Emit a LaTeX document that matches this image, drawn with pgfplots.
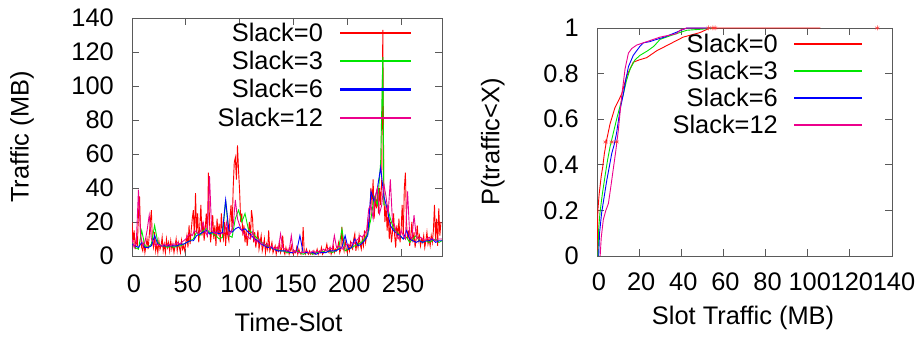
\documentclass[border=0pt]{standalone}
\usepackage{fontspec}
\setmainfont{Liberation Sans}
\usepackage{pgfplots}
\usepackage{pgfplotstable}
\pgfplotsset{compat=1.18}

\pgfplotstableread[row sep=\\]{y\\
20\\8\\15\\4\\10\\6\\25\\35\\12\\5\\
3\\8\\2\\6\\10\\4\\12\\20\\27\\8\\
5\\14\\3\\7\\2\\9\\4\\6\\11\\3\\
7\\2\\10\\5\\8\\3\\9\\4\\7\\2\\
6\\10\\3\\8\\5\\2\\9\\4\\6\\3\\
8\\12\\5\\18\\7\\15\\22\\27\\10\\37\\
14\\25\\8\\18\\30\\12\\20\\9\\16\\25\\
11\\49\\20\\8\\15\\24\\10\\18\\6\\22\\
12\\19\\8\\25\\14\\10\\20\\6\\17\\12\\
9\\22\\30\\15\\40\\55\\58\\45\\65\\50\\
38\\20\\25\\12\\18\\8\\15\\6\\12\\20\\
10\\27\\22\\8\\14\\5\\10\\15\\4\\8\\
12\\3\\6\\10\\2\\7\\4\\15\\3\\5\\
8\\2\\4\\6\\1\\5\\3\\9\\2\\4\\
12\\3\\1\\5\\2\\4\\1\\3\\6\\2\\
1\\3\\2\\5\\1\\4\\2\\1\\3\\17\\
2\\1\\4\\2\\1\\3\\1\\2\\1\\3\\
1\\2\\4\\1\\3\\2\\5\\1\\2\\3\\
4\\7\\3\\2\\5\\1\\3\\6\\2\\4\\
3\\5\\8\\2\\4\\17\\6\\3\\9\\4\\
2\\6\\3\\8\\5\\4\\10\\13\\3\\8\\
5\\12\\7\\4\\10\\6\\15\\8\\12\\20\\
15\\25\\40\\30\\45\\22\\35\\28\\38\\25\\
40\\30\\45\\133\\35\\20\\30\\15\\25\\10\\
20\\8\\14\\25\\12\\5\\18\\10\\22\\8\\
15\\30\\12\\40\\49\\20\\10\\15\\6\\12\\
20\\8\\14\\5\\10\\18\\9\\12\\6\\10\\
8\\12\\5\\9\\14\\7\\10\\6\\12\\8\\
15\\30\\10\\22\\6\\28\\12\\20\\
}\slackzero

\definecolor{axgray}{RGB}{90,90,90}
\definecolor{gpgreen}{RGB}{0,230,0}

\pgfplotsset{
  gp/.style={
    scale only axis,
    axis line style={axgray, line width=0.8bp},
    tick style={axgray, line width=0.8bp},
    tick align=inside,
    major tick length=7bp,
    font=\fontsize{25.5}{30}\selectfont,
    xticklabel style={anchor=center, inner sep=0pt, /pgf/number format/assume math mode=true},
    yticklabel style={anchor=east, inner sep=0pt, /pgf/number format/assume math mode=true},
    legend plot pos=right,
    legend cell align=right,
    legend style={draw=none, fill=none, font=\fontsize{25.5}{30}\selectfont,
      inner sep=0pt, nodes={inner sep=0pt}},
  },
}

\begin{document}
\begin{tikzpicture}[x=1bp,y=1bp]
\useasboundingbox (0,0) rectangle (918,337);

% ---------------- left panel ----------------
\begin{axis}[gp,
  at={(132bp,81bp)}, anchor=south west,
  width=310bp, height=238bp,
  xmin=0, xmax=288, ymin=0, ymax=140,
  xtick={0,50,...,250}, ytick={0,20,...,140},
  xticklabel style={yshift=-28bp, xshift=2bp},
  yticklabel style={xshift=-18bp},
  xlabel={Time-Slot}, ylabel={Traffic (MB)},
  every axis x label/.style={at={(axis description cs:0.505,-0.28)}, anchor=center},
  every axis y label/.style={at={(axis description cs:-0.355,0.5)}, anchor=center, rotate=90},
  legend style={at={(0.9,0.98)}, anchor=north east, column sep=17bp, row sep=8.4bp},
  legend image code/.code={\fill[#1] (0bp,-0.65bp) rectangle (70bp,0.65bp);},
]
\addplot[red, line width=0.9bp] table[x expr=\coordindex, y=y] {\slackzero};
\addlegendentry{Slack=0}
\addplot[gpgreen, line width=0.9bp] coordinates {
(0,8)(3,5)(6,4)(9,15)(12,6)(15,5)(18,7)(21,18)(24,8)(27,6)
(30,6)(33,5)(36,6)(39,5)(42,6)(45,6)(48,7)(51,8)(54,9)(57,10)
(60,14)(63,12)(66,15)(69,16)(72,14)(75,13)(78,12)(81,10)(84,11)(87,33)
(90,12)(93,11)(96,22)(99,27)(102,20)(105,25)(108,16)(111,14)(114,12)(117,10)
(120,8)(123,7)(126,6)(129,5)(132,4)(135,4)(138,3)(141,3)(144,2)(147,2)
(150,2)(153,3)(156,2)(159,1)(162,2)(165,2)(168,1)(171,2)(174,2)(177,3)
(180,2)(183,3)(186,2)(189,3)(192,4)(195,16)(198,3)(201,4)(204,5)(207,6)
(210,7)(213,8)(216,10)(219,13)(222,22)(225,35)(228,30)(231,55)(233,117)(234,30)(237,30)
(240,22)(243,16)(246,14)(249,12)(252,10)(255,11)(258,8)(261,10)(264,12)(267,9)
(270,8)(273,9)(276,8)(279,9)(282,10)(285,8)(288,9)};
\addlegendentry{Slack=3}
\addplot[blue, line width=0.9bp] coordinates {
(0,7)(3,6)(6,5)(9,8)(12,5)(15,5)(18,6)(21,12)(24,7)(27,6)
(30,6)(33,6)(36,6)(39,6)(42,6)(45,7)(48,7)(51,8)(54,9)(57,9)
(60,12)(63,13)(66,14)(69,15)(72,13)(75,14)(78,14)(81,13)(84,14)(87,33)
(90,15)(93,14)(96,16)(99,17)(102,15)(105,16)(108,14)(111,12)(114,10)(117,9)
(120,7)(123,6)(126,5)(129,5)(132,4)(135,3)(138,3)(141,3)(144,3)(147,2)
(150,2)(153,3)(156,12)(159,2)(162,2)(165,2)(168,2)(171,1)(174,2)(177,2)
(180,2)(183,3)(186,3)(189,3)(192,4)(195,5)(198,12)(201,4)(204,5)(207,10)
(210,6)(213,7)(216,9)(219,12)(222,38)(225,32)(228,40)(231,52)(234,35)(237,28)
(240,18)(243,15)(246,13)(249,12)(252,10)(255,15)(258,10)(261,9)(264,8)(267,9)
(270,8)(273,9)(276,9)(279,10)(282,8)(285,9)(288,9)};
\addlegendentry{Slack=6}
\addplot[magenta, line width=0.9bp] coordinates {
(0,10)(2,5)(4,8)(6,39)(8,12)(10,6)(12,8)(14,15)(16,24)(18,10)
(20,8)(22,6)(24,7)(26,6)(28,6)(30,7)(32,6)(34,7)(36,6)(38,7)
(40,7)(42,8)(44,7)(46,8)(48,9)(50,10)(52,12)(54,13)(56,12)(58,15)
(60,14)(62,13)(64,15)(66,20)(68,14)(70,12)(72,47)(74,15)(76,14)(78,13)
(80,15)(82,14)(84,13)(86,14)(88,20)(90,12)(92,14)(94,18)(96,33)(98,22)
(100,18)(102,15)(104,13)(106,12)(108,11)(110,10)(112,14)(114,9)(116,8)(118,10)
(120,7)(122,8)(124,6)(126,7)(128,5)(130,6)(132,4)(134,5)(136,4)(138,13)
(140,5)(142,4)(144,3)(146,3)(148,12)(150,2)(152,3)(154,2)(156,2)(158,2)
(160,2)(162,3)(164,2)(166,2)(168,3)(170,2)(172,3)(174,2)(176,3)(178,4)
(180,3)(182,4)(184,5)(186,4)(188,12)(190,5)(192,6)(194,5)(196,4)(198,6)
(200,7)(202,6)(204,8)(206,7)(208,9)(210,10)(212,12)(214,11)(216,13)(218,15)
(220,28)(222,30)(224,22)(226,35)(228,40)(230,25)(232,30)(234,42)(236,35)(238,25)
(240,45)(242,20)(244,18)(246,12)(248,10)(250,15)(252,12)(254,10)(256,38)(258,12)
(260,10)(262,24)(264,12)(266,10)(268,11)(270,10)(272,9)(274,10)(276,11)(278,10)
(280,10)(282,9)(284,10)(286,10)(288,10)};
\addlegendentry{Slack=12}
\end{axis}

% ---------------- right panel ----------------
\begin{axis}[gp,
  at={(597bp,81bp)}, anchor=south west,
  width=295bp, height=228bp,
  xmin=0, xmax=140, ymin=0, ymax=1,
  xtick={0,20,...,140}, ytick={0,0.2,0.4,0.6,0.8,1},
  xticklabel style={yshift=-26bp, xshift=2bp},
  yticklabel style={xshift=-18bp},
  xlabel={Slot Traffic (MB)}, ylabel={P(traffic<X)},
  every axis x label/.style={at={(axis description cs:0.495,-0.272)}, anchor=center},
  every axis y label/.style={at={(axis description cs:-0.353,0.5)}, anchor=center, rotate=90},
  legend style={at={(0.898,0.975)}, anchor=north east, column sep=16bp, row sep=7.1bp},
  legend image code/.code={\fill[#1] (0bp,-0.65bp) rectangle (67bp,0.65bp);},
]
\addplot[red, line width=0.9bp] coordinates {
(0,0.02)(0.2,0.1)(0.4,0.2)(1,0.27)(2,0.35)(2.7,0.39)(3.5,0.45)(4.6,0.51)(6.2,0.58)(8.5,0.65)
(11.7,0.71)(14.1,0.79)(17.2,0.85)(20,0.86)(23.6,0.87)(28.3,0.90)(34.6,0.93)(40.9,0.96)
(48.9,0.98)(53.6,1)(106,1)};
\addlegendentry{Slack=0}
\addplot[gpgreen, line width=0.9bp] coordinates {
(0.5,0)(0.8,0.12)(1.4,0.19)(2.5,0.27)(3.8,0.35)(5,0.42)(6.2,0.48)(7.5,0.53)(9.3,0.6)(11,0.66)
(12.5,0.71)(14,0.77)(15.7,0.82)(18,0.86)(20.4,0.88)(24,0.90)(27,0.92)(29.9,0.95)(36,0.97)
(42.6,0.99)(50,0.995)(55,1)};
\addlegendentry{Slack=3}
\addplot[blue, line width=0.9bp] coordinates {
(0.8,0)(1.2,0.1)(2.2,0.19)(3.4,0.26)(4.6,0.33)(5.8,0.39)(7,0.45)(8.2,0.49)(9.3,0.54)(10.9,0.64)
(12.5,0.71)(13.6,0.77)(14.9,0.83)(17.2,0.88)(20.4,0.92)(22,0.935)(25,0.94)(28.3,0.95)(32,0.96)
(36,0.975)(42.6,1)(54,1)};
\addlegendentry{Slack=6}
\addplot[magenta, line width=0.9bp] coordinates {
(1.5,0)(2,0.08)(3,0.16)(4.2,0.2)(5.4,0.23)(6.5,0.3)(7.7,0.38)(8.9,0.46)(10.1,0.55)(11.7,0.70)
(13.3,0.82)(14.9,0.89)(16.5,0.91)(18.8,0.925)(23.6,0.94)(29.9,0.96)(37.8,0.975)(39.4,0.99)
(42.6,1)(53,1)};
\addlegendentry{Slack=12}
\addplot[only marks, mark=asterisk, mark size=2.5bp, red!80!white, mark options={line width=0.5bp}, forget plot]
coordinates {(4.1,0.5)(7,0.5)(9.3,0.5)(53,1)(55,1)(56,1)(133,1)};
\end{axis}
\end{tikzpicture}
\end{document}
